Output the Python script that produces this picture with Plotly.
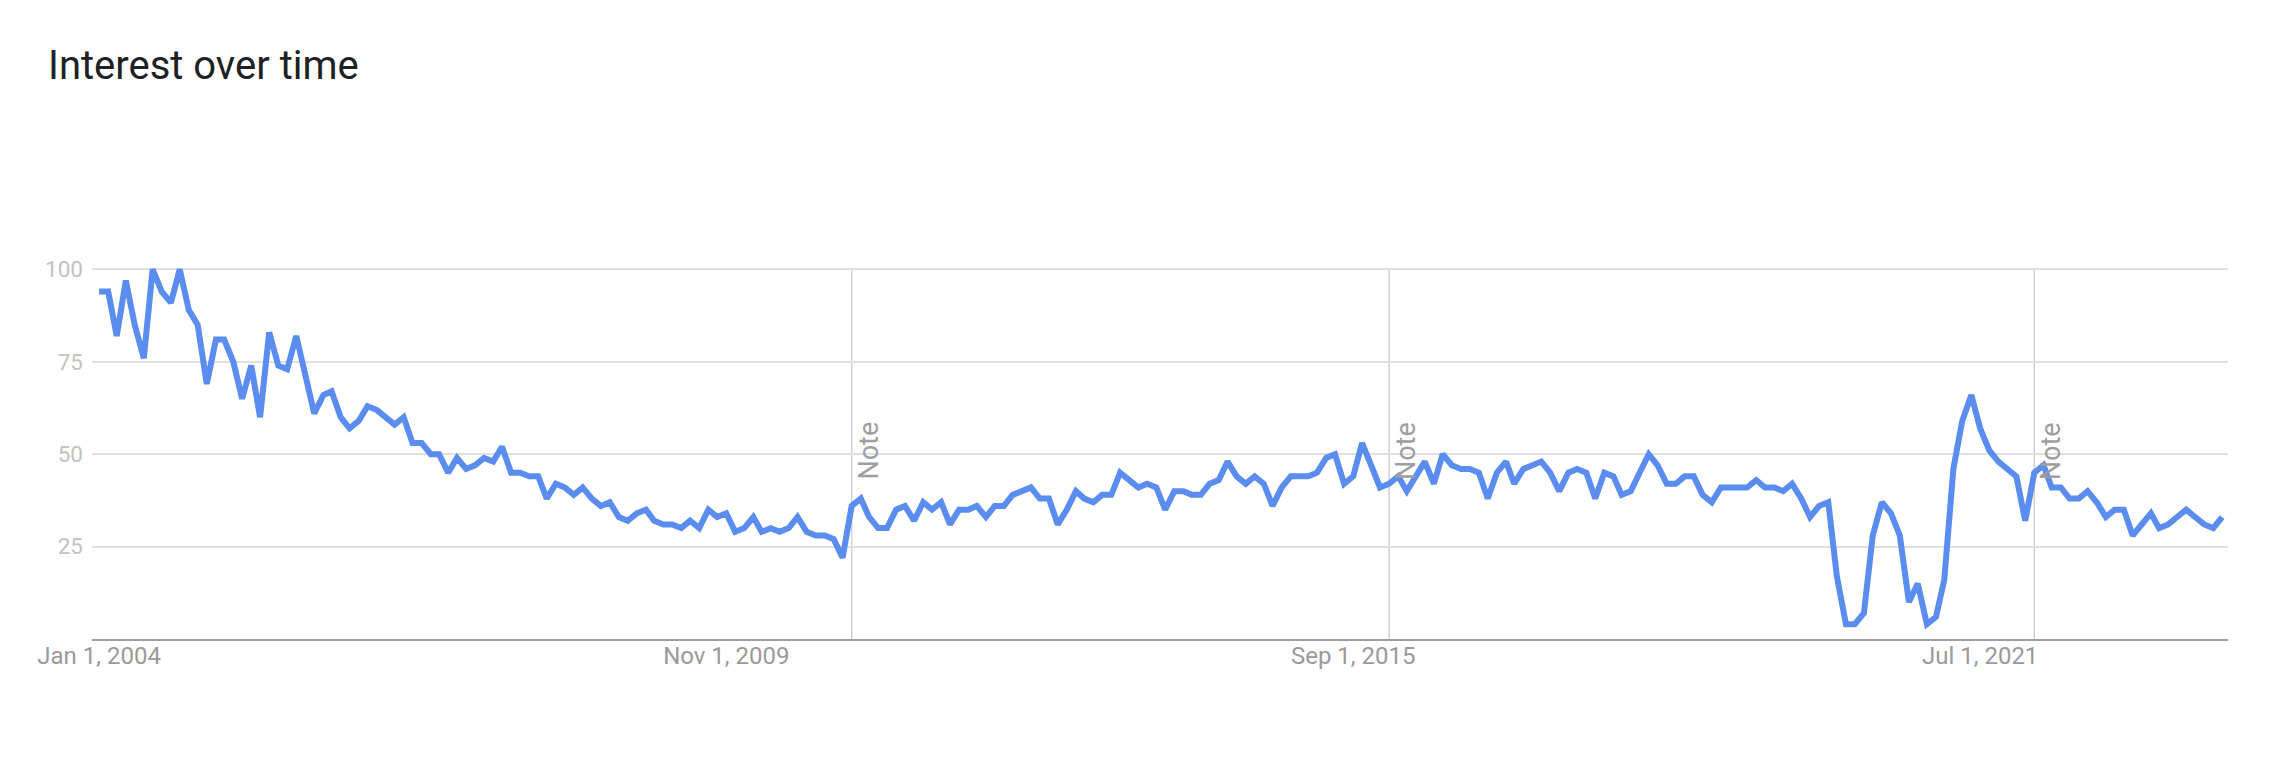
import pandas as pd
import plotly.graph_objects as go

# monthly interest values (0-100), starting Jan 2004
start_month = "2004-01-01"
interest = [
    94, 94, 82, 97, 85, 76, 100, 94, 91, 100,
    89, 85, 69, 81, 81, 75, 65, 74, 60, 83,
    74, 73, 82, 71, 61, 66, 67, 60, 57, 59,
    63, 62, 60, 58, 60, 53, 53, 50, 50, 45,
    49, 46, 47, 49, 48, 52, 45, 45, 44, 44,
    38, 42, 41, 39, 41, 38, 36, 37, 33, 32,
    34, 35, 32, 31, 31, 30, 32, 30, 35, 33,
    34, 29, 30, 33, 29, 30, 29, 30, 33, 29,
    28, 28, 27, 22, 36, 38, 33, 30, 30, 35,
    36, 32, 37, 35, 37, 31, 35, 35, 36, 33,
    36, 36, 39, 40, 41, 38, 38, 31, 35, 40,
    38, 37, 39, 39, 45, 43, 41, 42, 41, 35,
    40, 40, 39, 39, 42, 43, 48, 44, 42, 44,
    42, 36, 41, 44, 44, 44, 45, 49, 50, 42,
    44, 53, 47, 41, 42, 44, 40, 44, 48, 42,
    50, 47, 46, 46, 45, 38, 45, 48, 42, 46,
    47, 48, 45, 40, 45, 46, 45, 38, 45, 44,
    39, 40, 45, 50, 47, 42, 42, 44, 44, 39,
    37, 41, 41, 41, 41, 43, 41, 41, 40, 42,
    38, 33, 36, 37, 17, 4, 4, 7, 28, 37,
    34, 28, 10, 15, 4, 6, 16, 46, 59, 66,
    57, 51, 48, 46, 44, 32, 45, 47, 41, 41,
    38, 38, 40, 37, 33, 35, 35, 28, 31, 34,
    30, 31, 33, 35, 33, 31, 30, 33,
]
months = pd.date_range(start_month, periods=len(interest), freq="MS")

x_tick_dates = ["2004-01-01", "2009-11-01", "2015-09-01", "2021-07-01"]
x_tick_text = ["Jan 1, 2004", "Nov 1, 2009", "Sep 1, 2015", "Jul 1, 2021"]
y_ticks = [25, 50, 75, 100]
note_dates = ["2011-01-01", "2016-01-01", "2022-01-01"]

fig = go.Figure()
fig.add_trace(go.Scatter(
    x=months, y=interest, mode="lines",
    line=dict(color="#5b8cef", width=6),
    hoverinfo="x+y", showlegend=False,
))

# vertical "Note" markers
for d in note_dates:
    fig.add_shape(type="line", xref="x", yref="y", x0=d, x1=d, y0=0, y1=100,
                  line=dict(color="#d0d0d0", width=1.5), layer="below")
    fig.add_annotation(x=d, y=42.5, xref="x", yref="y", text="Note",
                       textangle=-90, showarrow=False, xanchor="center",
                       yanchor="bottom", xshift=17,
                       font=dict(family="Roboto", size=27, color="#9e9e9e"))

fig.add_annotation(text="Interest over time", xref="paper", yref="paper",
                   x=-0.0215, y=1.0, xanchor="left", yanchor="bottom",
                   yshift=171, showarrow=False,
                   font=dict(family="Roboto", size=40, color="#202124"))

# the page body adds an 8px offset, so the figure is 8px smaller
fig.update_layout(
    width=2272, height=767,
    margin=dict(l=84, r=52, t=254, b=136, pad=0),
    paper_bgcolor="white", plot_bgcolor="white",
    xaxis=dict(
        type="date", range=["2003-12-08", "2023-10-21"],
        tickvals=x_tick_dates, ticktext=x_tick_text,
        showgrid=False, zeroline=False,
        showline=True, linecolor="#9e9e9e", linewidth=1.5,
        ticks="", ticklabelstandoff=-6,
        tickfont=dict(family="Roboto", size=24, color="#9a9a9a"),
    ),
    yaxis=dict(
        range=[0, 102], tickvals=y_ticks,
        showgrid=True, gridcolor="#e0e0e0", gridwidth=1.5,
        zeroline=False, showline=False, ticks="", ticklabelstandoff=8,
        tickfont=dict(family="Roboto", size=22.5, color="#c2c2c2"),
    ),
)

fig.write_html("out.html")
